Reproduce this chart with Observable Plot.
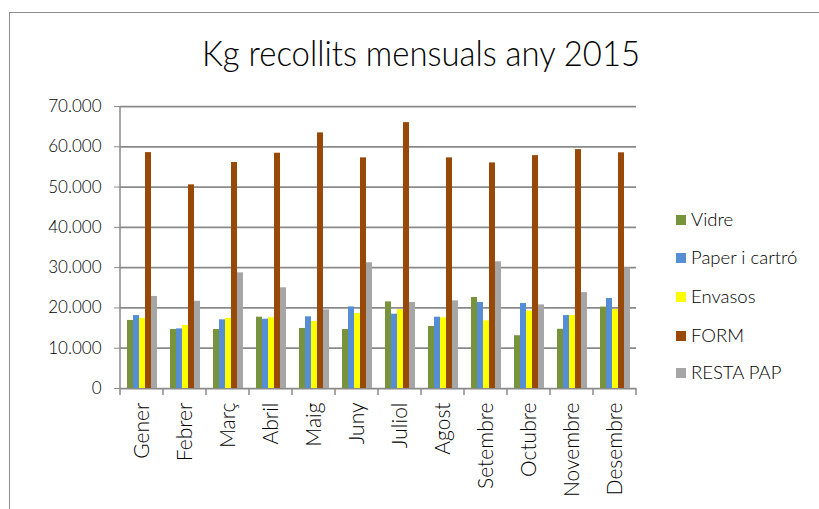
<!DOCTYPE html>
<html><head><meta charset="utf-8">
<script src="https://cdn.jsdelivr.net/npm/d3@7"></script>
<script src="https://cdn.jsdelivr.net/npm/@observablehq/plot@0.6"></script>
<style>
html,body{margin:0;padding:0;background:#fff;}
#wrap{position:relative;width:819px;height:509px;overflow:hidden;font-family:Lato,"Open Sans",sans-serif;font-weight:300;background:#fff;}
#border{position:absolute;left:9px;top:12px;width:840px;height:540px;border-left:1.5px solid #8c8c8c;border-top:1.5px solid #8c8c8c;z-index:2;pointer-events:none;}
#chart{position:absolute;left:0;top:0;z-index:1;}
#legend{position:absolute;left:676px;top:0;z-index:3;}
.item{position:absolute;left:0;white-space:nowrap;font-size:18.5px;color:#000;line-height:20px;height:20px;}
.sw{position:absolute;left:0;top:5px;width:10px;height:10px;}
.lab{position:absolute;left:15px;top:-1px;}
</style></head>
<body>
<div id="wrap"><div id="border"></div><div id="chart"></div><div id="legend"></div></div>
<script>
const months = ["Gener","Febrer","Març","Abril","Maig","Juny","Juliol","Agost","Setembre","Octubre","Novembre","Desembre"];
const series = ["Vidre","Paper i cartró","Envasos","FORM","RESTA PAP"];
const colors = ["#77933C","#558ED5","#FFFF00","#984807","#A6A6A6"];
const vidre    = [16900,14650,14650,17700,14900,14650,21500,15400,22600,13100,14700,20200];
const paper    = [18100,14800,17050,17200,17800,20250,18450,17700,21350,21100,18100,22350];
const envasos  = [17400,15650,17400,17550,16650,18600,19600,17550,16800,19200,18100,19600];
const form     = [58550,50550,56100,58400,63450,57250,66000,57250,56000,57800,59300,58500];
const restaPap = [22850,21650,28700,25000,19500,31200,21350,21750,31450,20750,23800,29950];
const yTicks   = [0,10000,20000,30000,40000,50000,60000,70000];
const title    = "Kg recollits mensuals any 2015";

const valuesBySeries = [vidre, paper, envasos, form, restaPap];
const data = months.flatMap((m, i) => series.map((s, j) => ({month: m, series: s, value: valuesBySeries[j][i]})));
const fmt = d => d3.format(",")(d).replace(/,/g, ".");

const chart = Plot.plot({
  width: 819, height: 509,
  marginLeft: 120, marginRight: 183, marginTop: 106, marginBottom: 121,
  style: {fontFamily: "Lato, 'Open Sans', sans-serif", fontWeight: 300, background: "transparent", color: "#000"},
  fx: {domain: months, padding: 0, label: null},
  x: {domain: series, axis: null, paddingInner: 0, paddingOuter: 0.76},
  y: {domain: [0, 70000]},
  color: {domain: series, range: colors},
  marks: [
    Plot.ruleY(yTicks, {stroke: "#8a8a8a", strokeWidth: 1.75}),
    Plot.barY(data, {fx: "month", x: "series", y: "value", fill: "series"}),
    Plot.axisY({ticks: yTicks, tickFormat: fmt, tickSize: 6, tickPadding: 13, fontSize: 17, label: null, stroke: "#8a8a8a", fill: "#000", line: true}),
    Plot.axisFx({anchor: "bottom", tickRotate: -90, tickSize: 0, tickPadding: 14, fontSize: 21, label: null, fill: "#000"})
  ]
});
document.getElementById("chart").appendChild(chart);

// group-boundary tick marks under the baseline, derived from the scales
const fx = chart.scale("fx"), ys = chart.scale("y");
const svg = d3.select(chart);
const y0 = ys.apply(0);
const bounds = months.map(m => fx.apply(m)).concat([fx.apply(months[months.length - 1]) + fx.bandwidth]);
svg.append("g").selectAll("line").data(bounds).join("line")
  .attr("x1", d => d).attr("x2", d => d)
  .attr("y1", (d, i) => i === 0 ? ys.apply(70000) : y0).attr("y2", y0 + 7)
  .attr("stroke", "#8a8a8a").attr("stroke-width", 1.5);

// title
svg.append("text").text(title)
  .attr("x", 421).attr("y", 66)
  .attr("text-anchor", "middle")
  .attr("font-size", 36).attr("font-weight", 300).attr("fill", "#000")
  .attr("font-family", "Lato, 'Open Sans', sans-serif")
  .attr("textLength", 438).attr("lengthAdjust", "spacingAndGlyphs");

// legend
const legendTop = [220, 258, 297, 336, 373];
const leg = document.getElementById("legend");
series.forEach((s, i) => {
  const it = document.createElement("div");
  it.className = "item";
  it.style.top = (legendTop[i] - 10) + "px";
  it.innerHTML = `<span class="sw" style="background:${colors[i]}"></span><span class="lab">${s}</span>`;
  leg.appendChild(it);
});
</script>
</body></html>
